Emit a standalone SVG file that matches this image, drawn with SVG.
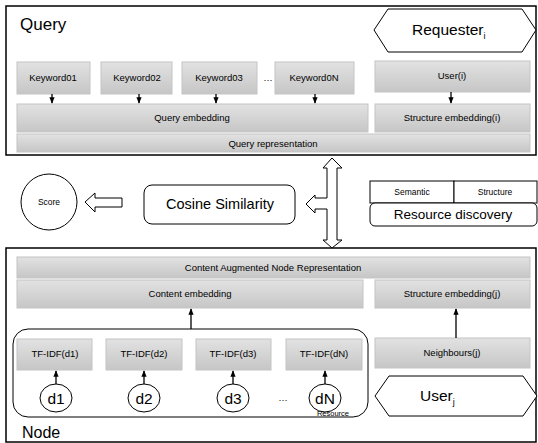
<svg xmlns="http://www.w3.org/2000/svg" width="538" height="443" viewBox="0 0 538 443">
<defs>
<linearGradient id="g" x1="0" y1="0" x2="0" y2="1">
<stop offset="0" stop-color="#e2e2e2"/>
<stop offset="1" stop-color="#c6c6c6"/>
</linearGradient>
<marker id="ah" viewBox="0 0 10 10" refX="9" refY="5" markerWidth="5" markerHeight="5" orient="auto-start-reverse">
<path d="M0,1 L10,5 L0,9 z" fill="#000"/>
</marker>
<style>
.box{fill:url(#g);stroke:#c4c4c4;stroke-width:1}
.frame{fill:none;stroke:#000;stroke-width:1.5}
.out{fill:#fff;stroke:#000;stroke-width:1}
.t{font-family:"Liberation Sans",Arial,sans-serif;fill:#000;text-anchor:middle}
.l{text-anchor:start}
.s9{font-size:9.5px}
.s8{font-size:8.5px}
.s13{font-size:13.5px}
.s15{font-size:15.5px}
.ar{stroke:#000;stroke-width:1.3;fill:none;marker-end:url(#ah)}
</style>
</defs>
<rect width="538" height="443" fill="#fff"/>

<g id="query">
<rect class="frame" x="6" y="6" width="530" height="149"/>
<text class="t l" x="20" y="30" font-size="17">Query</text>
</g>
<g id="requester">
<polygon class="out" points="374,30 388,9 522,9 536,30 522,52 388,52"/>
<text class="t l s15" x="412" y="35">Requester<tspan font-size="9" dy="4" fill="#000">i</tspan></text>
</g>
<g id="kw1"><rect class="box" x="17" y="62" width="73" height="32"/><text class="t s9" x="53" y="81">Keyword01</text></g>
<g id="kw2"><rect class="box" x="101" y="62" width="71" height="32"/><text class="t s9" x="137" y="81">Keyword02</text></g>
<g id="kw3"><rect class="box" x="182" y="62" width="75" height="32"/><text class="t s9" x="219" y="81">Keyword03</text></g>
<text class="t s9" x="268" y="81">…</text>
<g id="kwN"><rect class="box" x="275" y="62" width="79" height="32"/><text class="t s9" x="314" y="81">Keyword0N</text></g>
<g id="useri"><rect class="box" x="375" y="61" width="155" height="31"/><text class="t s9" x="452" y="79">User(i)</text></g>
<g id="qemb"><rect class="box" x="17" y="104" width="351" height="28"/><text class="t s9" x="192" y="121">Query embedding</text></g>
<g id="sembi"><rect class="box" x="375" y="104" width="155" height="28"/><text class="t s9" x="452" y="121">Structure embedding(i)</text></g>
<g id="qrep"><rect class="box" x="17" y="134" width="513" height="18"/><text class="t s9" x="273" y="146.5">Query representation</text></g>

<g id="score"><circle class="out" cx="49" cy="202" r="28"/><text class="t s8" x="49" y="205">Score</text></g>
<g id="cosine"><rect class="out" x="144" y="185" width="151" height="39" rx="8"/><text class="t" font-size="14.5" x="220" y="209">Cosine Similarity</text></g>
<g id="discovery">
<rect class="out" x="370" y="181" width="84" height="22"/>
<rect class="out" x="454" y="181" width="83" height="22"/>
<text class="t s8" x="412" y="195">Semantic</text>
<text class="t s8" x="495" y="195">Structure</text>
<rect class="out" x="370" y="203" width="167" height="23" rx="5"/>
<text class="t s13" x="453" y="219">Resource discovery</text>
</g>

<g id="node">
<rect class="frame" x="6" y="248" width="530" height="194"/>
<text class="t l" font-size="16" x="22" y="438">Node</text>
</g>
<g id="canr"><rect class="box" x="17" y="257" width="513" height="21"/><text class="t s9" x="273" y="271">Content Augmented Node Representation</text></g>
<g id="cemb"><rect class="box" x="17" y="280" width="346" height="28"/><text class="t s9" x="190" y="297">Content embedding</text></g>
<g id="sembj"><rect class="box" x="375" y="280" width="155" height="28"/><text class="t s9" x="452" y="297">Structure embedding(j)</text></g>
<g id="resource">
<rect fill="none" stroke="#000" stroke-width="1" x="13" y="329" width="355" height="88" rx="15"/>
<text class="t" font-size="7.5" x="333" y="416" fill="#333">Resource</text>
</g>
<g id="tf1"><rect class="box" x="17" y="339" width="75" height="31"/><text class="t s9" x="55" y="357">TF-IDF(d1)</text></g>
<g id="tf2"><rect class="box" x="106" y="339" width="76" height="31"/><text class="t s9" x="144" y="357">TF-IDF(d2)</text></g>
<g id="tf3"><rect class="box" x="196" y="339" width="75" height="31"/><text class="t s9" x="233" y="357">TF-IDF(d3)</text></g>
<g id="tfN"><rect class="box" x="286" y="339" width="76" height="31"/><text class="t s9" x="324" y="357">TF-IDF(dN)</text></g>
<g id="d1"><ellipse class="out" cx="56" cy="398" rx="16" ry="14"/><text class="t s15" x="56" y="404">d1</text></g>
<g id="d2"><ellipse class="out" cx="144" cy="398" rx="16" ry="14"/><text class="t s15" x="144" y="404">d2</text></g>
<g id="d3"><ellipse class="out" cx="233" cy="398" rx="16" ry="14"/><text class="t s15" x="233" y="404">d3</text></g>
<text class="t s9" x="283" y="401">…</text>
<g id="dN"><ellipse class="out" cx="325" cy="398" rx="16" ry="14"/><text class="t s15" x="325" y="404">dN</text></g>
<g id="neigh"><rect class="box" x="375" y="338" width="155" height="30"/><text class="t s9" x="452" y="356">Neighbours(j)</text></g>
<g id="userj">
<polygon class="out" points="375,396 389,376 523,376 537,396 523,416 389,416"/>
<text class="t l s15" x="420" y="401">User<tspan font-size="9" dy="4" fill="#000">j</tspan></text>
</g>

<g id="connectors">
<line class="ar" x1="52" y1="94" x2="52" y2="103"/>
<line class="ar" x1="139" y1="94" x2="139" y2="103"/>
<line class="ar" x1="216" y1="94" x2="216" y2="103"/>
<line class="ar" x1="315" y1="94" x2="315" y2="103"/>
<line class="ar" x1="451" y1="92" x2="451" y2="103"/>
<line class="ar" x1="191" y1="329" x2="191" y2="309"/>
<line class="ar" x1="456" y1="338" x2="456" y2="309"/>
<line class="ar" x1="56" y1="384" x2="56" y2="371"/>
<line class="ar" x1="144" y1="384" x2="144" y2="371"/>
<line class="ar" x1="233" y1="384" x2="233" y2="371"/>
<line class="ar" x1="325" y1="384" x2="325" y2="371"/>
<polygon fill="#fff" stroke="#000" stroke-width="1" points="85,202 95,193 95,198 122,198 122,207 95,207 95,212"/>
<polygon fill="#fff" stroke="#000" stroke-width="1" points="332,158 342,168 337,168 337,240 342,240 332,248 323,240 327,240 327,209 315,209 315,213 306,204 315,195 315,198 327,198 327,168 323,168"/>
</g>
</svg>
